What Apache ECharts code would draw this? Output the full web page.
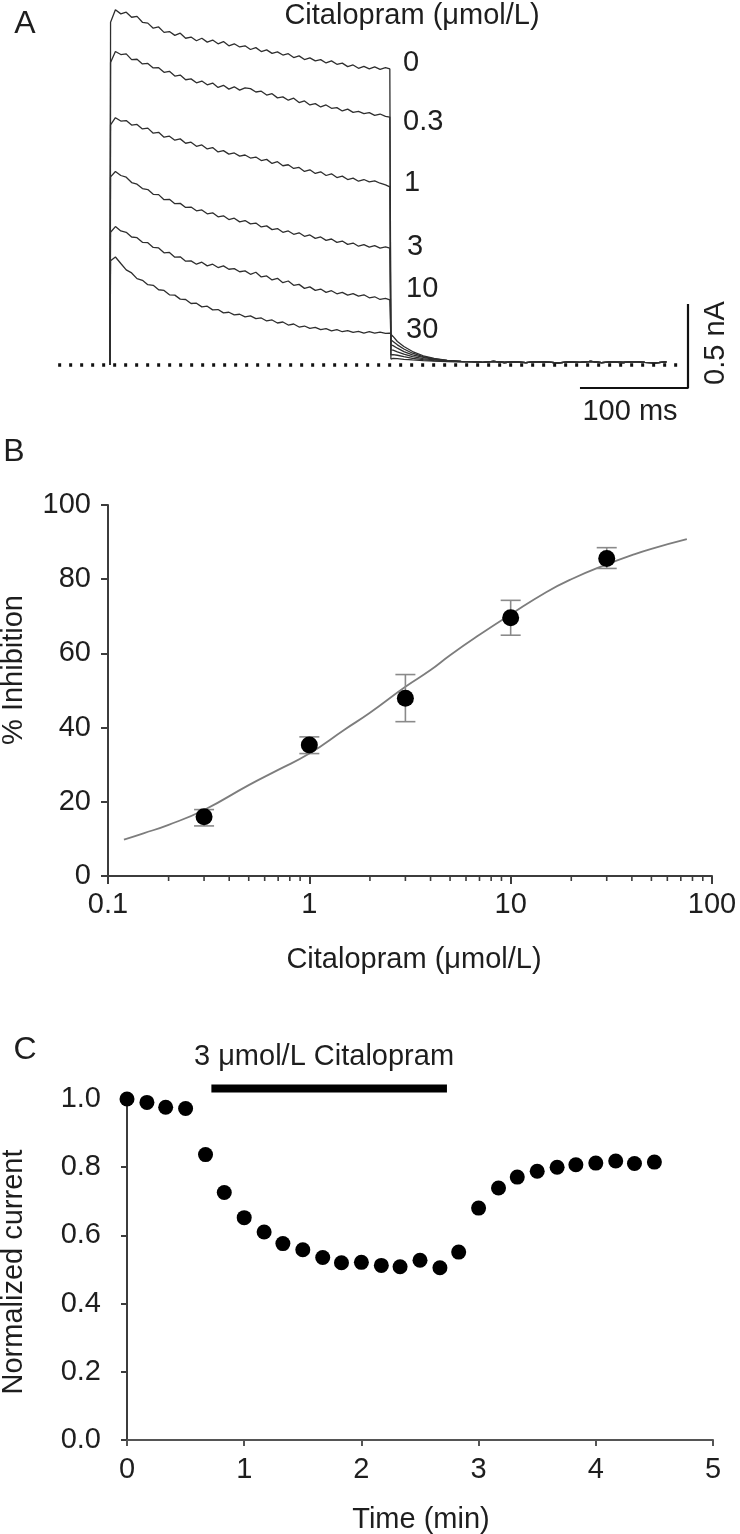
<!DOCTYPE html>
<html><head><meta charset="utf-8">
<script src="https://cdn.jsdelivr.net/npm/echarts/dist/echarts.min.js"></script>
<style>html,body{margin:0;padding:0;background:#fff}#c{width:740px;height:1534px}</style>
</head><body><div id="c"></div>
<script>
// ---------- Panel A: current traces (time in ms from pulse onset, current in nA) ----------
const concLabels = ['0', '0.3', '1', '3', '10', '30'];
const pulseT = [0, 0.5, 5, 10, 15, 20, 25, 30, 35, 40,
  45, 50, 55, 60, 65, 70, 75, 80, 85, 90,
  95, 100, 105, 110, 115, 120, 125, 130, 135, 140,
  145, 150, 155, 160, 165, 170, 175, 180, 185, 190,
  195, 200, 205, 210, 215, 220, 225, 230, 235, 240,
  245, 250, 255, 259];
const trace_0 = [0, 2.04, 2.115, 2.09, 2.1, 2.07, 2.075, 2.04, 2.035, 2.005,
  2.012, 1.98, 1.985, 1.962, 1.975, 1.945, 1.952, 1.93, 1.945, 1.922,
  1.934, 1.912, 1.925, 1.9, 1.912, 1.893, 1.9, 1.878, 1.889, 1.866,
  1.876, 1.855, 1.864, 1.845, 1.853, 1.83, 1.84, 1.818, 1.828, 1.81,
  1.818, 1.798, 1.81, 1.79, 1.797, 1.776, 1.786, 1.766, 1.778, 1.763,
  1.774, 1.76, 1.77, 1.762];
const trace_03 = [0, 1.80, 1.866, 1.848, 1.852, 1.818, 1.82, 1.792, 1.795, 1.768,
  1.77, 1.742, 1.748, 1.72, 1.726, 1.698, 1.703, 1.68, 1.69, 1.668,
  1.678, 1.652, 1.665, 1.642, 1.656, 1.636, 1.65, 1.645, 1.625, 1.63,
  1.607, 1.615, 1.59, 1.596, 1.576, 1.588, 1.562, 1.572, 1.548, 1.556,
  1.536, 1.548, 1.528, 1.532, 1.512, 1.523, 1.504, 1.51, 1.496, 1.502,
  1.486, 1.494, 1.48, 1.476];
const trace_1 = [0, 1.43, 1.472, 1.452, 1.455, 1.428, 1.432, 1.405, 1.41, 1.38,
  1.385, 1.356, 1.362, 1.338, 1.346, 1.32, 1.326, 1.302, 1.31, 1.286,
  1.294, 1.268, 1.276, 1.255, 1.262, 1.243, 1.25, 1.232, 1.238, 1.217,
  1.224, 1.2, 1.21, 1.186, 1.192, 1.17, 1.176, 1.152, 1.162, 1.14,
  1.15, 1.128, 1.138, 1.116, 1.124, 1.104, 1.112, 1.094, 1.104, 1.09,
  1.096, 1.082, 1.072, 1.06];
const trace_3 = [0, 1.12, 1.152, 1.128, 1.118, 1.086, 1.076, 1.05, 1.044, 1.016,
  1.014, 0.984, 0.986, 0.96, 0.962, 0.938, 0.94, 0.918, 0.923, 0.9,
  0.906, 0.882, 0.888, 0.866, 0.874, 0.852, 0.86, 0.84, 0.845, 0.822,
  0.828, 0.806, 0.812, 0.79, 0.798, 0.778, 0.787, 0.766, 0.774, 0.754,
  0.762, 0.742, 0.75, 0.73, 0.738, 0.718, 0.726, 0.707, 0.716, 0.702,
  0.71, 0.696, 0.703, 0.696];
const trace_10 = [0, 0.79, 0.824, 0.798, 0.79, 0.762, 0.758, 0.73, 0.728, 0.7,
  0.697, 0.668, 0.67, 0.642, 0.644, 0.618, 0.62, 0.6, 0.612, 0.59,
  0.6, 0.58, 0.59, 0.57, 0.574, 0.555, 0.56, 0.54, 0.552, 0.524,
  0.53, 0.506, 0.516, 0.49, 0.5, 0.474, 0.48, 0.456, 0.465, 0.444,
  0.452, 0.432, 0.442, 0.424, 0.432, 0.416, 0.425, 0.41, 0.418, 0.4,
  0.406, 0.39, 0.396, 0.387];
const trace_30 = [0, 0.62, 0.643, 0.604, 0.566, 0.548, 0.514, 0.504, 0.478, 0.474,
  0.448, 0.444, 0.418, 0.416, 0.392, 0.39, 0.366, 0.368, 0.346, 0.35,
  0.328, 0.33, 0.31, 0.314, 0.298, 0.302, 0.286, 0.292, 0.276, 0.28,
  0.262, 0.268, 0.25, 0.256, 0.238, 0.244, 0.226, 0.232, 0.218, 0.224,
  0.21, 0.216, 0.203, 0.21, 0.198, 0.205, 0.194, 0.2, 0.19, 0.198,
  0.19, 0.196, 0.188, 0.19];
const tailT = [260, 262, 266, 272, 280, 290, 300, 312, 325];
const tail_0  = [0.035, 0.04, 0.038, 0.034, 0.03, 0.026, 0.023, 0.02, 0.019];
const tail_03 = [0.06, 0.062, 0.058, 0.05, 0.04, 0.032, 0.026, 0.022, 0.02];
const tail_1  = [0.09, 0.088, 0.078, 0.065, 0.05, 0.038, 0.03, 0.024, 0.02];
const tail_3  = [0.12, 0.115, 0.1, 0.08, 0.06, 0.045, 0.034, 0.026, 0.021];
const tail_10 = [0.15, 0.14, 0.12, 0.095, 0.07, 0.05, 0.037, 0.027, 0.022];
const tail_30 = [0.19, 0.17, 0.14, 0.11, 0.08, 0.055, 0.04, 0.028, 0.022];
const flatT = [335, 345, 355, 365, 375, 385, 395, 405, 415, 425, 435, 445, 455, 465, 475, 485, 495, 505, 515];
const flatI = [0.02, 0.016, 0.021, 0.015, 0.019, 0.014, 0.02, 0.017, 0.013, 0.019, 0.016, 0.021, 0.014, 0.018, 0.015, 0.02, 0.016, 0.013, 0.018];
const baselineT = [-48, 530];
const scaleBarMs = 100, scaleBarNA = 0.5, scaleBarCorner = [535, -0.137];

// ---------- Panel B: concentration-response ----------
const inhibConc = [0.3, 1, 3, 10, 30];
const inhibMean = [16, 35.3, 47.9, 69.6, 85.6];
const inhibLow  = [13.5, 33, 41.6, 64.9, 82.9];
const inhibHigh = [17.9, 37.5, 54.3, 74.3, 88.5];
const fitConc = [0.12, 0.15, 0.2, 0.3, 0.5, 0.7, 1, 1.5, 2, 3, 4, 5, 7, 10, 15, 20, 30, 40, 50, 75];
const fitInhib = [9.8, 11.5, 13.8, 17.8, 24.5, 28.6, 33, 39.5, 44, 51, 55.5, 59.5, 65, 70.5, 76.5, 80, 84, 86.5, 88.2, 90.8];
const minorTickConc = [0.2, 0.3, 0.4, 0.5, 0.6, 0.7, 0.8, 0.9, 2, 3, 4, 5, 6, 7, 8, 9, 20, 30, 40, 50, 60, 70, 80, 90];

// ---------- Panel C: time course ----------
const timeMin = [0, 0.17, 0.33, 0.5, 0.67, 0.83, 1.0, 1.17, 1.33, 1.5, 1.67, 1.83, 2.0, 2.17,
  2.33, 2.5, 2.67, 2.83, 3.0, 3.17, 3.33, 3.5, 3.67, 3.83, 4.0, 4.17, 4.33, 4.5];
const normCurrent = [1.0, 0.99, 0.976, 0.972, 0.837, 0.726, 0.652, 0.61, 0.576, 0.558, 0.535, 0.52, 0.521, 0.512,
  0.508, 0.527, 0.505, 0.551, 0.68, 0.739, 0.771, 0.788, 0.8, 0.807, 0.812, 0.818, 0.811, 0.815];
const drugStart = 0.72, drugEnd = 2.73, drugBarLevel = 1.031;

// ---------- build ----------
const FONT = "'Liberation Sans', Arial, sans-serif";
const FS = 29;
const TXT = '#1e1e1e';
const AX = '#3c3c3c';
const traces = [trace_0, trace_03, trace_1, trace_3, trace_10, trace_30];
const tails = [tail_0, tail_03, tail_1, tail_3, tail_10, tail_30];

const traceSeries = traces.map((tr, k) => ({
  type: 'line', name: concLabels[k], xAxisIndex: 0, yAxisIndex: 0,
  showSymbol: false, symbol: 'none', silent: true, animation: false,
  lineStyle: { color: '#2e2e2e', width: 1.3 },
  data: pulseT.map((t, i) => [t, tr[i]])
    .concat(tailT.map((t, i) => [t, tails[k][i]]))
    .concat(flatT.map((t, i) => [t, flatI[i]])),
  z: 2
}));

const txt = (text, x, y, size, opt) => Object.assign({
  type: 'text', x: x, y: y, silent: true,
  style: { text: text, fill: TXT, font: size + 'px ' + FONT, textAlign: 'center', textVerticalAlign: 'middle' }
}, opt || {});

const labelPos = [[403, 63], [403, 122], [404, 183], [407, 247], [406, 289], [406, 330]];
const graphics = [
  txt('A', 25, 24, 32),
  txt('Citalopram (μmol/L)', 412, 16, FS),
  txt('100 ms', 630, 412, FS),
  txt('0.5 nA', 716, 343, FS, { rotation: Math.PI / 2 }),
  txt('B', 14, 452, 32),
  txt('% Inhibition', 14, 670, FS, { rotation: Math.PI / 2 }),
  txt('Citalopram (μmol/L)', 414, 960, FS),
  txt('C', 25, 1050, 32),
  txt('3 μmol/L Citalopram', 324, 1057, FS),
  txt('Normalized current', 14, 1272, FS, { rotation: Math.PI / 2 }),
  txt('Time (min)', 421, 1520, FS)
];
concLabels.forEach((c, k) => {
  const g = txt(c, labelPos[k][0], labelPos[k][1], FS);
  g.style.textAlign = 'left';
  graphics.push(g);
});

const tickLabel = { color: TXT, fontSize: FS, fontFamily: FONT };
const axLine = { show: true, lineStyle: { color: AX, width: 2 } };

const option = {
  animation: false,
  backgroundColor: '#fff',
  grid: [
    { left: 56, right: 52, top: 8, height: 399, containLabel: false, outerBoundsMode: 'none' },
    { left: 108, right: 28, top: 505, height: 371, containLabel: false, outerBoundsMode: 'none' },
    { left: 127, right: 27, top: 1099, height: 341, containLabel: false, outerBoundsMode: 'none' }
  ],
  xAxis: [
    { gridIndex: 0, type: 'value', min: -50, max: 535, show: false },
    { gridIndex: 1, type: 'log', logBase: 10, min: 0.1, max: 100, splitNumber: 3,
      axisLine: axLine, splitLine: { show: false },
      axisTick: { show: true, length: 8, lineStyle: { color: AX, width: 2 } },
      axisLabel: Object.assign({ margin: 14, formatter: v => String(+(+v).toPrecision(3)) }, tickLabel) },
    { gridIndex: 2, type: 'value', min: 0, max: 5, interval: 1,
      axisLine: { show: true, lineStyle: { color: '#555', width: 2 } }, splitLine: { show: false },
      axisTick: { show: true, length: 6, lineStyle: { color: '#555', width: 2 } },
      axisLabel: Object.assign({ margin: 15 }, tickLabel) }
  ],
  yAxis: [
    { gridIndex: 0, type: 'value', min: -0.25, max: 2.125, show: false },
    { gridIndex: 1, type: 'value', min: 0, max: 100, interval: 20,
      axisLine: axLine, splitLine: { show: false },
      axisTick: { show: true, length: 7, lineStyle: { color: AX, width: 2 } },
      axisLabel: Object.assign({ margin: 17 }, tickLabel) },
    { gridIndex: 2, type: 'value', min: 0, max: 1, interval: 0.2, offset: 19,
      axisLine: axLine, splitLine: { show: false },
      axisTick: { show: true, length: 6, lineStyle: { color: AX, width: 2 } },
      axisLabel: Object.assign({ margin: 7, formatter: v => v.toFixed(1) }, tickLabel) }
  ],
  series: traceSeries.concat([
    { type: 'line', xAxisIndex: 0, yAxisIndex: 0, symbol: 'none', silent: true,
      lineStyle: { color: '#111', width: 3.5, type: [3, 8], cap: 'butt' },
      data: baselineT.map(t => [t, 0]), z: 5 },
    { type: 'line', xAxisIndex: 0, yAxisIndex: 0, symbol: 'none', silent: true,
      lineStyle: { color: '#111', width: 2.2 },
      data: [[scaleBarCorner[0] - scaleBarMs, scaleBarCorner[1]], scaleBarCorner,
             [scaleBarCorner[0], scaleBarCorner[1] + scaleBarNA]], z: 5 },
    // Panel B
    { type: 'line', xAxisIndex: 1, yAxisIndex: 1, symbol: 'none', smooth: true, silent: true,
      lineStyle: { color: '#7d7d7d', width: 1.8 },
      data: fitConc.map((c, i) => [c, fitInhib[i]]), z: 2 },
    { type: 'custom', xAxisIndex: 1, yAxisIndex: 1, silent: true, z: 3,
      data: inhibConc.map((c, i) => [c, inhibLow[i], inhibHigh[i]]),
      encode: { x: 0, y: [1, 2] },
      renderItem: (params, api) => {
        const x = api.value(0);
        const lo = api.coord([x, api.value(1)]);
        const hi = api.coord([x, api.value(2)]);
        const st = { stroke: '#8a8a8a', lineWidth: 1.6 };
        const w = 10;
        return { type: 'group', children: [
          { type: 'line', shape: { x1: lo[0], y1: lo[1], x2: hi[0], y2: hi[1] }, style: st },
          { type: 'line', shape: { x1: lo[0] - w, y1: lo[1], x2: lo[0] + w, y2: lo[1] }, style: st },
          { type: 'line', shape: { x1: hi[0] - w, y1: hi[1], x2: hi[0] + w, y2: hi[1] }, style: st }
        ] };
      } },
    { type: 'scatter', xAxisIndex: 1, yAxisIndex: 1, symbol: 'circle', symbolSize: 17, silent: true,
      itemStyle: { color: '#000', opacity: 1 }, data: inhibConc.map((c, i) => [c, inhibMean[i]]), z: 4 },
    { type: 'custom', xAxisIndex: 1, yAxisIndex: 1, silent: true, z: 3,
      data: minorTickConc.map(c => [c, 0]),
      renderItem: (params, api) => {
        const p = api.coord([api.value(0), 0]);
        return { type: 'line', shape: { x1: p[0], y1: p[1], x2: p[0], y2: p[1] + 5 },
          style: { stroke: AX, lineWidth: 1.6 } };
      } },
    // Panel C
    { type: 'scatter', xAxisIndex: 2, yAxisIndex: 2, symbol: 'circle', symbolSize: 15, silent: true,
      itemStyle: { color: '#000', opacity: 1 }, data: timeMin.map((t, i) => [t, normCurrent[i]]), z: 4 },
    { type: 'line', xAxisIndex: 2, yAxisIndex: 2, symbol: 'none', silent: true, clip: false,
      lineStyle: { color: '#000', width: 8, cap: 'butt' },
      data: [[drugStart, drugBarLevel], [drugEnd, drugBarLevel]], z: 4 }
  ]),
  graphic: graphics
};

const chart = echarts.init(document.getElementById('c'), null, { renderer: 'canvas' });
chart.setOption(option);
</script></body></html>
